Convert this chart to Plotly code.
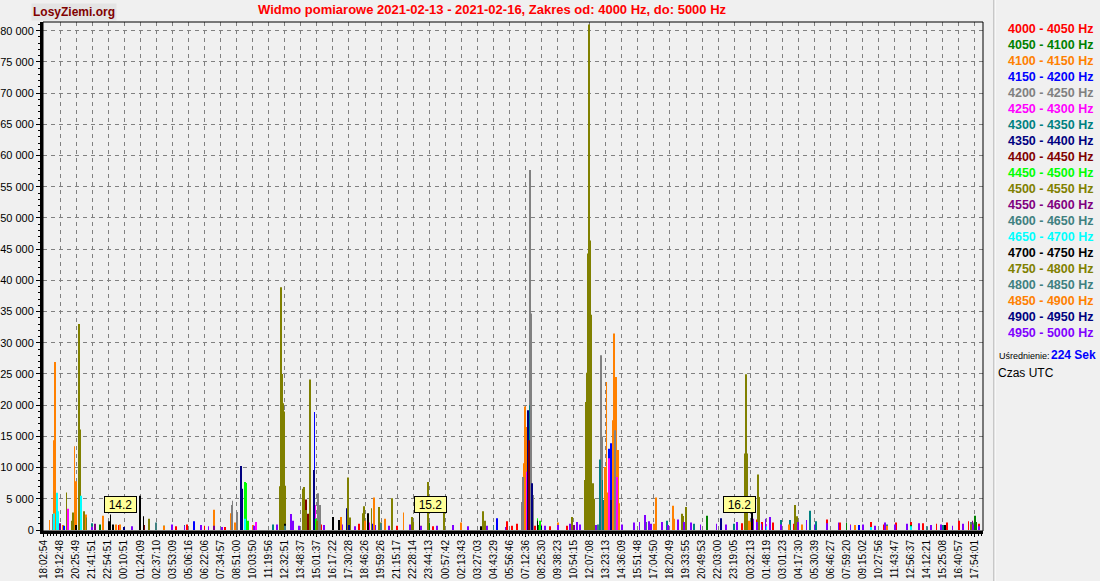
import plotly.graph_objects as go

# ---------------- data ----------------
TICK_LABELS = [
    "18:02:54", "19:12:48", "20:25:49", "21:41:51", "22:54:51", "00:10:51", "01:24:09", "02:37:10",
    "03:53:09", "05:06:16", "06:22:06", "07:34:57", "08:51:00", "10:03:50", "11:19:56", "12:32:51",
    "13:48:37", "15:01:37", "16:17:22", "17:30:28", "18:46:26", "19:59:26", "21:15:17", "22:28:14",
    "23:44:13", "00:57:42", "02:13:43", "03:27:03", "04:43:29", "05:56:46", "07:12:36", "08:25:30",
    "09:38:23", "10:54:15", "12:07:08", "13:23:13", "14:36:09", "15:51:48", "17:04:50", "18:20:49",
    "19:33:55", "20:49:53", "22:03:00", "23:19:05", "00:32:13", "01:48:19", "03:01:23", "04:17:30",
    "05:30:39", "06:46:27", "07:59:20", "09:15:02", "10:27:56", "11:43:47", "12:56:37", "14:12:21",
    "15:25:08", "16:40:57", "17:54:01",
]
SAMPLES_PER_LABEL = 20

BANDS = [
    "4000 - 4050 Hz", "4050 - 4100 Hz", "4100 - 4150 Hz", "4150 - 4200 Hz", "4200 - 4250 Hz",
    "4250 - 4300 Hz", "4300 - 4350 Hz", "4350 - 4400 Hz", "4400 - 4450 Hz", "4450 - 4500 Hz",
    "4500 - 4550 Hz", "4550 - 4600 Hz", "4600 - 4650 Hz", "4650 - 4700 Hz", "4700 - 4750 Hz",
    "4750 - 4800 Hz", "4800 - 4850 Hz", "4850 - 4900 Hz", "4900 - 4950 Hz", "4950 - 5000 Hz",
]

# (sample index, value) per band
S4000 = [(20, 600), (93, 800), (140, 500), (165, 600), (178, 900), (200, 700), (226, 500), (240, 800),
         (330, 700), (345, 900), (393, 1000), (440, 700), (485, 600), (577, 1400), (583, 700), (589, 1000),
         (601, 7470), (612, 700), (630, 600), (652, 700), (690, 700), (755, 800), (870, 1100), (888, 1700),
         (895, 1300), (908, 1200), (935, 1000), (976, 1700), (992, 1200), (1005, 900), (1030, 1300),
         (1046, 900), (1062, 1200), (1080, 1300), (1095, 1100), (1112, 1000), (1125, 1200), (1140, 1500),
         (1152, 1400), (1165, 1000)]
S4050 = [(35, 1400), (70, 900), (150, 700), (254, 1000), (480, 1200), (617, 800), (826, 2290), (900, 900),
         (1000, 1200), (1080, 800), (1160, 2290), (1162, 1300)]
S4100 = [(7, 1600), (13, 14400), (14, 26900), (24, 800), (38, 13400), (40, 7800), (52, 2500), (74, 2300),
         (95, 900), (150, 700), (212, 3250), (233, 2700), (238, 1200), (370, 2100), (411, 5200), (448, 2800),
         (520, 1200), (597, 4000), (598, 10700), (599, 19800), (600, 19800), (601, 16500), (699, 10100),
         (701, 23700), (703, 6000), (709, 17600), (710, 31500), (712, 6000), (713, 24500), (715, 12800),
         (717, 4300), (762, 4000), (763, 5200), (784, 3900), (785, 1800), (878, 1500), (1010, 800)]
S4150 = [(25, 700), (187, 1400), (250, 1200), (337, 18900), (409, 1000), (564, 1900), (595, 2240),
         (704, 13000), (707, 13900), (1015, 800)]
S4200 = [(11, 2560), (234, 4000), (235, 4700), (240, 2900), (341, 5900), (342, 5700), (344, 4000),
         (596, 4500), (597, 8500), (606, 57700), (607, 34700), (609, 5600), (694, 28000), (695, 15000),
         (711, 16000), (713, 4000), (1158, 1200)]
S4250 = [(30, 3400), (252, 4500), (264, 1300), (338, 4000), (405, 1200), (602, 9330), (620, 900),
         (704, 11500), (714, 8500), (900, 900)]
S4300 = [(12, 2560), (60, 1100), (175, 800), (285, 900), (332, 12160), (560, 700), (605, 20000), (618, 1000),
         (693, 11300), (696, 8000), (697, 4800), (750, 1100), (776, 1500), (790, 1400), (810, 1000),
         (860, 1000), (918, 1600), (930, 1600), (954, 3070), (962, 1400), (1050, 900), (1120, 800)]
S4350 = [(246, 10240), (247, 6600), (336, 9600), (377, 3470), (603, 19200), (604, 10900), (608, 7500),
         (707, 4800), (844, 1870)]
S4400 = [(125, 800), (327, 4900), (329, 2600), (604, 14400), (683, 2900)]
S4450 = [(250, 3800), (251, 7700), (252, 7550), (254, 1500), (339, 1800), (615, 1870), (618, 1500)]
S4500 = [(28, 6000), (35, 1500), (44, 33000), (45, 16100), (50, 3000), (53, 2000), (131, 1800),
         (294, 7000), (295, 38900), (296, 26000), (297, 25000), (298, 20300), (299, 19000), (300, 7100),
         (323, 6600), (324, 6900), (326, 3200), (331, 24100), (340, 1500), (379, 8400), (381, 2000),
         (397, 2700), (399, 3800), (408, 3500), (417, 3700), (420, 1200), (434, 5100), (459, 2100),
         (479, 7700), (498, 3500), (547, 3000), (549, 1500), (658, 2100), (674, 8000), (675, 20500),
         (676, 25200), (677, 11200), (678, 44300), (679, 81000), (680, 46400), (682, 34500), (684, 7500),
         (686, 5000), (796, 2240), (800, 3700), (873, 12270), (875, 24960), (876, 12270), (890, 8900),
         (891, 5300), (936, 4000), (938, 2200)]
S4550 = [(20, 1100), (64, 1000), (212, 700), (470, 700), (660, 800), (1157, 1500)]
S4600 = [(140, 1200), (420, 1100), (560, 800), (750, 1300), (795, 1500), (1075, 700), (1155, 1300)]
S4650 = [(12, 2650), (16, 5970), (17, 3000), (46, 5500), (250, 1800), (900, 600), (1030, 500), (1080, 600)]
S4700 = [(40, 800), (81, 1400), (83, 2500), (86, 900), (120, 5500), (124, 2200), (300, 1000), (360, 2100),
         (368, 1600), (404, 2700), (468, 3100), (545, 600), (615, 1500), (882, 3090), (884, 1700),
         (1123, 800)]
S4750 = [(36, 2800), (50, 1500), (460, 1300), (795, 2600), (1155, 900)]
S4800 = [(60, 600), (300, 700), (690, 900), (1100, 600)]
S4850 = [(90, 900), (260, 800), (400, 1500), (425, 1800), (640, 1200), (760, 1000), (880, 1300),
         (928, 900), (945, 900), (1050, 700), (1157, 700)]
S4900 = [(100, 500), (380, 800), (620, 700), (850, 600), (1090, 500)]
S4950 = [(60, 500), (110, 600), (160, 900), (175, 700), (196, 800), (205, 600), (222, 500), (262, 700),
         (290, 900), (308, 2560), (310, 1500), (318, 700), (349, 800), (372, 900), (388, 600), (413, 800),
         (430, 700), (456, 900), (470, 600), (490, 700), (510, 800), (528, 600), (552, 700), (575, 500),
         (624, 700), (640, 800), (655, 1000), (664, 1300), (668, 900), (688, 800), (720, 900), (735, 1200),
         (742, 1300), (749, 2400), (754, 1400), (756, 1000), (770, 1300), (778, 800), (790, 1700),
         (797, 1300), (806, 1200), (818, 900), (838, 1000), (850, 900), (863, 1300), (884, 1800),
         (888, 1300), (894, 1000), (899, 1800), (905, 2100), (918, 900), (940, 1300), (950, 1600),
         (960, 900), (976, 1100), (990, 1200), (1005, 800), (1020, 900), (1035, 700), (1048, 1200),
         (1060, 900), (1075, 1000), (1090, 1100), (1105, 800), (1118, 900), (1132, 700), (1145, 1000),
         (1158, 900), (1165, 600)]

SERIES = [S4000, S4050, S4100, S4150, S4200, S4250, S4300, S4350, S4400, S4450,
          S4500, S4550, S4600, S4650, S4700, S4750, S4800, S4850, S4900, S4950]

DAY_MARKS = [(95, "14.2"), (482, "15.2"), (867, "16.2")]
AVERAGING = "224 Sek"

# ---------------- styles ----------------
COLORS = ["#FF0000", "#008000", "#FF8000", "#0000FF", "#808080", "#FF00FF", "#008080", "#000080",
          "#800000", "#00FF00", "#808000", "#800080", "#408080", "#00FFFF", "#000000", "#808000",
          "#408080", "#FF8000", "#000080", "#8000FF"]
FONT = "Liberation Sans, Arial, sans-serif"

W, H = 1100, 581
L, R, T, B = 43, 983, 22, 531  # plot area in pixels


def px(xp):
    return (xp - L) / (R - L)


def py(yp):
    return (B - yp) / (B - T)


fig = go.Figure()
for name, data, color in zip(BANDS, SERIES, COLORS):
    fig.add_trace(go.Bar(
        x=[p[0] for p in data], y=[p[1] for p in data], name=name,
        width=1.05, marker=dict(color=color, line=dict(width=0)), showlegend=False,
    ))

n = len(TICK_LABELS)
fig.update_layout(
    width=W, height=H,
    margin=dict(l=L, r=W - R, t=T, b=H - B, pad=0, autoexpand=False),
    paper_bgcolor="#F0F0F0", plot_bgcolor="#F0F0F0",
    barmode="overlay", separators=". ", showlegend=False,
    font=dict(family=FONT, size=11, color="black"),
    xaxis=dict(
        range=[-1.2, 1170], tickmode="array", automargin=False,
        tickvals=[i * SAMPLES_PER_LABEL for i in range(n)], ticktext=TICK_LABELS,
        tickangle=-90, tickfont=dict(size=10, color="black"), ticklabelstandoff=-1,
        showgrid=True, gridcolor="#808080", griddash="4px,4px", gridwidth=1,
        showline=True, linewidth=3, linecolor="black", zeroline=False,
        ticks="outside", ticklen=3, tickcolor="black",
        minor=dict(tickmode="linear", tick0=0, dtick=4, ticks="outside", ticklen=2,
                   tickcolor="black", showgrid=False),
    ),
    yaxis=dict(
        range=[-160, 81400], tickmode="array", tickvals=list(range(0, 80001, 5000)), automargin=False,
        tickformat=",d", tickfont=dict(size=11, color="black"),
        showgrid=True, gridcolor="#808080", griddash="4px,4px", gridwidth=1,
        showline=True, linewidth=3, linecolor="black", zeroline=False,
        ticks="outside", ticklen=4, tickcolor="black",
        minor=dict(tickmode="linear", tick0=0, dtick=1000, ticks="outside", ticklen=2,
                   tickcolor="black", showgrid=False),
    ),
)

shapes = [
    dict(type="rect", xref="paper", yref="paper", x0=0, x1=1, y0=0, y1=1,
         line=dict(color="black", width=1), fillcolor="rgba(0,0,0,0)", layer="above"),
    dict(type="line", xref="paper", yref="paper", x0=px(994), x1=px(994), y0=py(H), y1=py(0),
         line=dict(color="#A0A0A0", width=1)),
    dict(type="line", xref="paper", yref="paper", x0=px(995), x1=px(995), y0=py(H), y1=py(0),
         line=dict(color="#FFFFFF", width=1)),
]
fig.update_layout(shapes=shapes)

ann = []
ann.append(dict(xref="paper", yref="paper", x=px(492), y=py(9), xanchor="center", yanchor="middle",
                text="<b>Widmo pomiarowe 2021-02-13 - 2021-02-16, Zakres od: 4000 Hz, do: 5000 Hz</b>",
                showarrow=False, font=dict(family=FONT, size=13, color="#FF0000")))
ann.append(dict(xref="paper", yref="paper", x=px(74), y=py(12), xanchor="center", yanchor="middle",
                text="<b>LosyZiemi.org</b>", showarrow=False, bgcolor="#E4E4E4",
                font=dict(family=FONT, size=12, color="#800000")))
for i, (name, color) in enumerate(zip(BANDS, COLORS)):
    ann.append(dict(xref="paper", yref="paper", x=px(1006), y=py(29 + 16 * i), xanchor="left",
                    yanchor="middle", text="<b>" + name + "</b>", showarrow=False,
                    font=dict(family=FONT, size=12.5, color=color)))
ann.append(dict(xref="paper", yref="paper", x=px(997), y=py(356), xanchor="left", yanchor="middle",
                text="Uśrednienie:", showarrow=False, font=dict(family=FONT, size=9, color="black")))
ann.append(dict(xref="paper", yref="paper", x=px(1049), y=py(355), xanchor="left", yanchor="middle",
                text="<b>" + AVERAGING + "</b>", showarrow=False,
                font=dict(family=FONT, size=12, color="#0000FF")))
ann.append(dict(xref="paper", yref="paper", x=px(996), y=py(373), xanchor="left", yanchor="middle",
                text="Czas UTC", showarrow=False, font=dict(family=FONT, size=12, color="black")))
for xs, label in DAY_MARKS:
    ann.append(dict(x=xs, y=4160, xref="x", yref="y", text=label, showarrow=False,
                    bgcolor="#FFFF99", bordercolor="black", borderwidth=1, borderpad=1,
                    width=29, height=13, font=dict(family=FONT, size=12, color="black")))
fig.update_layout(annotations=ann)

fig.write_html("out.html", config={"displayModeBar": False},
               post_script="document.body.style.margin='0';")
